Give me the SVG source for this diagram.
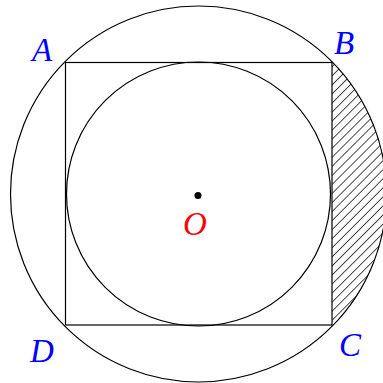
<svg xmlns="http://www.w3.org/2000/svg" width="383" height="383" viewBox="0 0 383 383">
<style>
.ln{fill:none;stroke:#000;stroke-width:1.2}
.lb{font-family:"Liberation Serif",serif;font-style:italic;font-size:33px;fill:#0000ff}
</style>
<defs>
<pattern id="hatch" patternUnits="userSpaceOnUse" width="6.4" height="6.4" patternTransform="rotate(-45)">
<line x1="0" y1="0" x2="6.4" y2="0" stroke="#000" stroke-width="1.4"/>
</pattern>
</defs>
<rect width="383" height="383" fill="#fff"/>
<g id="segment">
<path d="M332,61.6 A188,188 0 0 1 332,326.4 Z" fill="url(#hatch)" stroke="none"/>
</g>
<g id="outer-circle"><circle class="ln" cx="198.5" cy="194" r="188"/></g>
<g id="square"><rect class="ln" x="65.5" y="62.5" width="266.5" height="262.5"/></g>
<g id="inner-circle"><circle class="ln" cx="198.5" cy="194" r="132"/></g>
<g id="O"><circle cx="198" cy="195.5" r="3.5" fill="#000"/><text class="lb" x="183" y="235" style="fill:#ff0000">O</text></g>
<g id="A"><text class="lb" x="32" y="61">A</text></g>
<g id="B"><text class="lb" x="334" y="54">B</text></g>
<g id="C"><text class="lb" x="339" y="356">C</text></g>
<g id="D"><text class="lb" x="30" y="362">D</text></g>
</svg>
